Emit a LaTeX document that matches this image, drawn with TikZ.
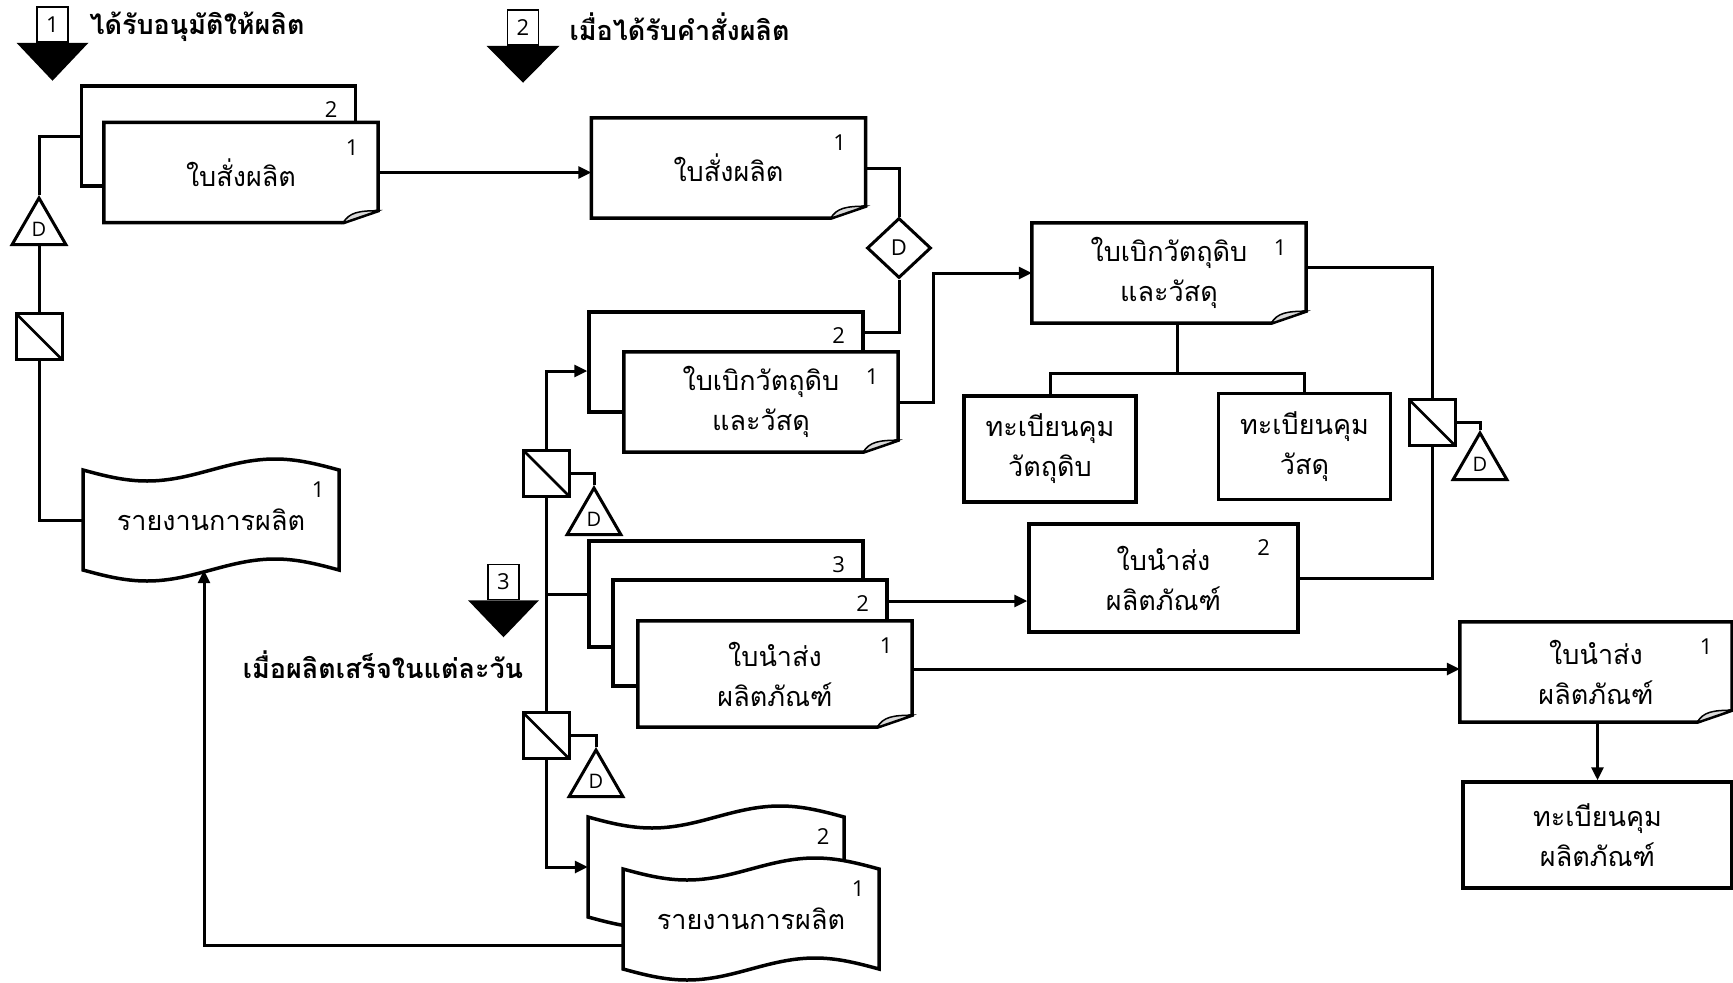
\documentclass[tikz,border=0pt]{standalone}
\usepackage{fontspec}
\setmainfont{Loma}[Script=Thai]
\newfontfamily\numfont{Open Sans}
\usetikzlibrary{arrows.meta,shapes.geometric}

% text sizes
\newcommand{\thsize}{\fontsize{27}{40}\selectfont}
\newcommand{\hdsize}{\fontsize{27}{32}\selectfont\bfseries}
\newcommand{\nmsize}{\numfont\fontsize{22}{22}\selectfont}

% outline of a document with its folded corner
\newcommand{\docedge}[1]{%
  \draw[docline] (#1.north west) -- (#1.north east) -- ([shift={(0,-12)}]#1.south east)
    -- ([shift={(-35,0)}]#1.south east) -- (#1.south west) -- cycle;
  \filldraw[fold] ([shift={(-35,0)}]#1.south east) .. controls ([shift={(-29,-10)}]#1.south east)
    and ([shift={(-20,-12)}]#1.south east) .. ([shift={(0,-12)}]#1.south east) -- cycle;
}

% punched tape (report)
\newcommand{\tape}[4]{%
  \filldraw[docline, fill=white] ([shift={(-128,-50)}]#2) sin ++(64,11) cos ++(64,-11)
    sin ++(64,-11) cos ++(64,11) -- ++(0,100) sin ++(-64,-11) cos ++(-64,11)
    sin ++(-64,11) cos ++(-64,-11) -- cycle;
  \node[tape, label={[tapelab]north east:#3}] (#1) at (#2) {#4};
}

\tikzset{
  docline/.style={line width=3.5pt},
  fold/.style={line width=1.5pt, fill=gray!30},
  conn/.style={line width=3pt},
  sheet/.style={draw, docline, fill=white, minimum width=274pt, minimum height=100pt},
  doc/.style={fill=white, minimum width=274pt, minimum height=100pt, align=center, font=\thsize},
  regbox/.style={draw, docline, fill=white, minimum width=172pt, minimum height=106pt, align=center, font=\thsize},
  tape/.style={minimum width=256pt, minimum height=100pt, font=\thsize},
  numlab/.style={anchor=center, xshift=-26pt, yshift=-25pt, font=\nmsize},
  tapelab/.style={numlab, xshift=5pt, yshift=5pt},
  splitbox/.style={draw, line width=3pt, fill=white, minimum size=46pt, inner sep=0pt,
    path picture={\draw[line width=2.5pt] (path picture bounding box.north west) -- (path picture bounding box.south east);}},
  dtri/.style={draw, line width=3pt, fill=white, regular polygon, regular polygon sides=3,
    minimum size=62pt, inner sep=0pt, font=\numfont\fontsize{20}{20}\selectfont},
  ddia/.style={draw, line width=3pt, fill=white, diamond, minimum width=64pt, minimum height=60pt,
    inner sep=0pt, font=\numfont\fontsize{22}{22}\selectfont},
  markbox/.style={draw, line width=1.5pt, fill=white, minimum width=31pt, minimum height=35pt,
    inner sep=0pt, font=\nmsize},
  head/.style={font=\hdsize}
}

\begin{document}
\begin{tikzpicture}[x=1pt, y=-1pt, >={Triangle[length=13pt, width=12pt]}]
\useasboundingbox (0,0) rectangle (1733,983);

% starting points
\node[markbox] (m1) at (52.5,24.5) {1};
\fill (m1.south) ++(-36,0) -- ++(72,0) -- ++(-36,38) -- cycle;
\node[head, anchor=west] (h1) at (86,27) {ได้รับอนุมัติให้ผลิต};
\node[markbox] (m2) at (523,27.5) {2};
\fill (m2.south) ++(-36.5,0) -- ++(73,0) -- ++(-36.5,37) -- cycle;
\node[head, anchor=west] (h2) at (566,27) {เมื่อได้รับคำสั่งผลิต};
\node[markbox] (m3) at (503.5,582) {3};
\fill (m3.south) ++(-35.5,0) -- ++(71,0) -- ++(-35.5,37) -- cycle;
\node[head] (h3) at (383,665) {เมื่อผลิตเสร็จในแต่ละวัน};

% production order
\node[sheet, label={[numlab]north east:2}] (so1b) at (218.5,136) {};
\node[doc, label={[numlab]north east:1}] (so1) at (241,172.5) {ใบสั่งผลิต};
\docedge{so1}
\node[doc, label={[numlab]north east:1}] (so2) at (728.5,168) {ใบสั่งผลิต};
\docedge{so2}

% requisition
\node[sheet, label={[numlab]north east:2}] (rq1b) at (726,362) {};
\node[doc, label={[numlab]north east:1}] (rq1) at (761,402) {ใบเบิกวัตถุดิบ\\และวัสดุ};
\docedge{rq1}
\node[doc, label={[numlab]north east:1}] (rq2) at (1169,273) {ใบเบิกวัตถุดิบ\\และวัสดุ};
\docedge{rq2}
\node[regbox] (reg1) at (1050,449) {ทะเบียนคุม\\วัตถุดิบ};
\node[regbox] (reg2) at (1304.5,446.5) {ทะเบียนคุม\\วัสดุ};
\coordinate (fork) at (1177,373);

% delivery notes
\node[sheet, minimum height=106pt, label={[numlab]north east:3}] (nd3) at (726,594) {};
\node[sheet, minimum height=106pt, label={[numlab]north east:2}] (nd2) at (750,633) {};
\node[doc, minimum height=106pt, label={[numlab]north east:1}] (nd1) at (775,674) {ใบนำส่ง\\ผลิตภัณฑ์};
\docedge{nd1}
\node[regbox, minimum width=269pt, minimum height=108pt, label={[numlab, xshift=-10pt]north east:2}] (dn2) at (1163.5,578) {ใบนำส่ง\\ผลิตภัณฑ์};
\node[doc, minimum width=272pt, label={[numlab]north east:1}] (nd4) at (1596,672) {ใบนำส่ง\\ผลิตภัณฑ์};
\docedge{nd4}
\node[regbox, minimum width=269pt] (reg3) at (1597.5,835) {ทะเบียนคุม\\ผลิตภัณฑ์};

% reports
\tape{rep1}{211,520}{1}{รายงานการผลิต}
\tape{rep2b}{716,867}{2}{}
\tape{rep2f}{751,919}{1}{รายงานการผลิต}

% filing symbols
\node[splitbox] (sp1) at (39,336.5) {};
\node[dtri] (d1) at (39,229) {D};
\node[splitbox] (sp2) at (546,473) {};
\node[dtri] (d2) at (594,519) {D};
\node[splitbox] (sp3) at (546,735.5) {};
\node[dtri] (d3) at (596,781) {D};
\node[splitbox] (sp4) at (1432,422.5) {};
\node[dtri] (d4) at (1480,464) {D};
\node[ddia] (dia) at (899,248) {D};

% connectors
\draw[conn] (so1b.west) -| (d1.north);
\draw[conn] (d1.south) -- (sp1.north);
\draw[conn] (sp1.south) |- (rep1.west);
\draw[conn,->] (so1.east) -- (so1.east -| so2.west);
\draw[conn] (so2.east) -| (dia.north);
\draw[conn] (dia.south) |- ([yshift=30pt]rq1b.east);
\draw[conn,->] (rq1.east) -- ++(35,0) |- (rq2.west);
\draw[conn] ([xshift=8pt]rq2.south) -- (fork);
\draw[conn] (reg1.north) |- (fork) -| (reg2.north);
\draw[conn] ([yshift=6pt]rq2.east) -| (sp4.north);
\draw[conn] (sp4.south) |- (dn2.east);
\draw[conn] (sp4.east) -| (d4.north);
\draw[conn] (nd3.west) -| (sp2.south);
\draw[conn,->] (sp2.north) |- ([yshift=-9pt]rq1b.west);
\draw[conn] (sp2.east) -| (d2.north);
\draw[conn] (nd3.west) -| (sp3.north);
\draw[conn] (sp3.east) -| (d3.north);
\draw[conn,->] (sp3.south) |- (rep2b.west);
\draw[conn,->] ([yshift=32pt]nd2.east) -- ([yshift=32pt]nd2.east -| dn2.west);
\draw[conn,->] ([yshift=5pt]nd1.east) -- ([yshift=5pt]nd1.east -| nd4.west);
\draw[conn,->] (nd4.south -| reg3.north) -- (reg3.north);
\draw[conn,->] ([yshift=-26pt]rep2f.west) -| ([xshift=-7pt]rep1.south);
\end{tikzpicture}
\end{document}
